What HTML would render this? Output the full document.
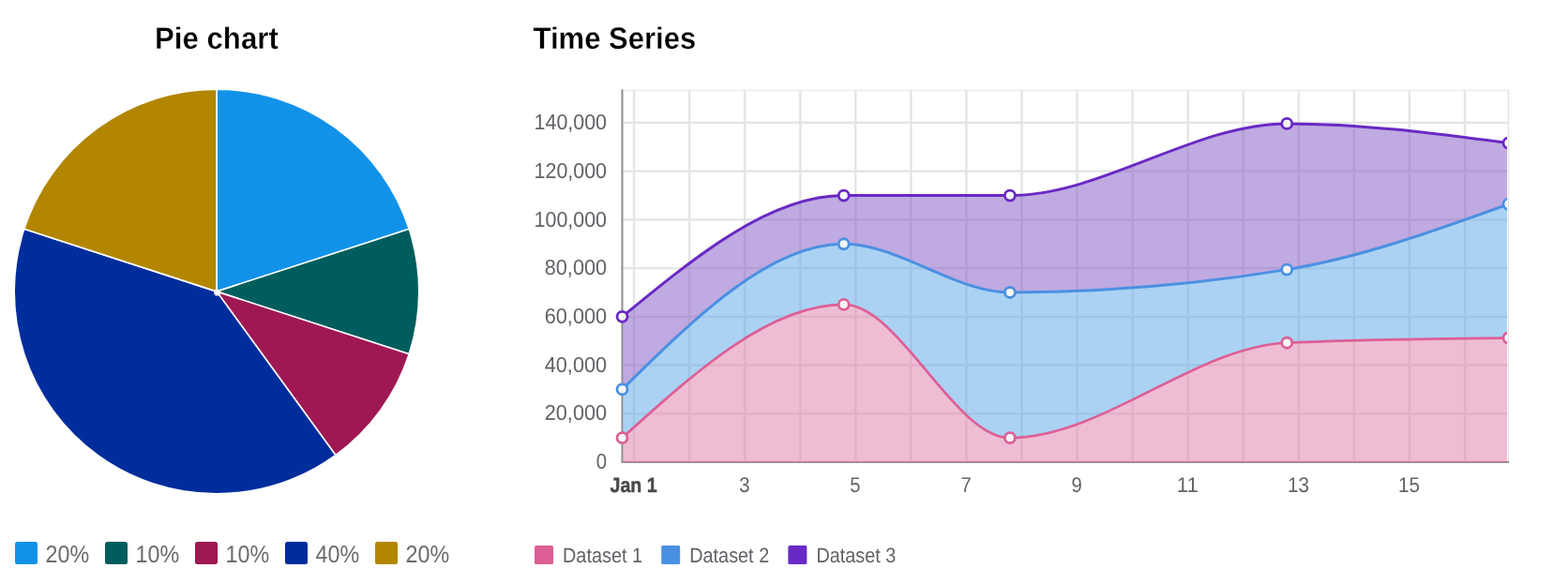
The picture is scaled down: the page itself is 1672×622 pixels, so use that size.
<!DOCTYPE html>
<html lang="en"><head><meta charset="utf-8"><title>Charts</title>
<style>html,body{margin:0;padding:0;background:#fff;}body{width:1672px;height:622px;overflow:hidden;font-family:'Liberation Sans', 'DejaVu Sans', sans-serif;}svg{display:block;text-rendering:geometricPrecision;}text{font-family:'Liberation Sans', 'DejaVu Sans', sans-serif;}</style></head><body>
<svg width="1672" height="622" viewBox="0 0 1672 622">
<rect width="1672" height="622" fill="#fff"/>
<text x="165" y="52" font-size="32.8" font-weight="700" fill="#000" stroke="#fff" stroke-width="0.3" textLength="131.8" lengthAdjust="spacingAndGlyphs">Pie chart</text>
<text x="568.6" y="52" font-size="32.8" font-weight="700" fill="#000" stroke="#fff" stroke-width="0.3" textLength="173.6" lengthAdjust="spacingAndGlyphs">Time Series</text>
<g stroke="#fff" stroke-width="1.6" stroke-linejoin="miter">
<path fill="#1192e8" d="M231.00,95.20A215.8,215.8,0,0,1,436.24,244.31L232.90,310.38A2,2,0,0,0,231.00,309.00Z"/>
<path fill="#005d5d" d="M436.24,244.31A215.8,215.8,0,0,1,436.24,377.69L232.90,311.62A2,2,0,0,0,232.90,310.38Z"/>
<path fill="#9f1853" d="M436.24,377.69A215.8,215.8,0,0,1,357.84,485.59L232.18,312.62A2,2,0,0,0,232.90,311.62Z"/>
<path fill="#002d9c" d="M357.84,485.59A215.8,215.8,0,0,1,25.76,244.31L229.10,310.38A2,2,0,0,0,232.18,312.62Z"/>
<path fill="#b28600" d="M25.76,244.31A215.8,215.8,0,0,1,231.00,95.20L231.00,309.00A2,2,0,0,0,229.10,310.38Z"/>
</g>
<circle cx="231.6" cy="312.2" r="3.4" fill="#fff"/>
<rect x="16" y="578" width="24" height="24" rx="2.5" fill="#1192e8"/>
<text x="48.6" y="600.4" font-size="25.8" fill="#6b6b6b" textLength="46.6" lengthAdjust="spacingAndGlyphs">20%</text>
<rect x="112" y="578" width="24" height="24" rx="2.5" fill="#005d5d"/>
<text x="144.6" y="600.4" font-size="25.8" fill="#6b6b6b" textLength="46.6" lengthAdjust="spacingAndGlyphs">10%</text>
<rect x="208" y="578" width="24" height="24" rx="2.5" fill="#9f1853"/>
<text x="240.6" y="600.4" font-size="25.8" fill="#6b6b6b" textLength="46.6" lengthAdjust="spacingAndGlyphs">10%</text>
<rect x="304" y="578" width="24" height="24" rx="2.5" fill="#002d9c"/>
<text x="336.6" y="600.4" font-size="25.8" fill="#6b6b6b" textLength="46.6" lengthAdjust="spacingAndGlyphs">40%</text>
<rect x="400" y="578" width="24" height="24" rx="2.5" fill="#b28600"/>
<text x="432.6" y="600.4" font-size="25.8" fill="#6b6b6b" textLength="46.6" lengthAdjust="spacingAndGlyphs">20%</text>
<line x1="663.5" y1="96.5" x2="1609.0" y2="96.5" stroke="#ebebeb" stroke-width="1.5"/>
<line x1="1608.5" y1="96.0" x2="1608.5" y2="493.0" stroke="#e4e4e4" stroke-width="1.5"/>
<g stroke="#f1f1f1" stroke-width="2.9" fill="none">
<line x1="676.10" y1="97.0" x2="676.10" y2="493.0"/>
<line x1="735.16" y1="97.0" x2="735.16" y2="493.0"/>
<line x1="794.23" y1="97.0" x2="794.23" y2="493.0"/>
<line x1="853.29" y1="97.0" x2="853.29" y2="493.0"/>
<line x1="912.35" y1="97.0" x2="912.35" y2="493.0"/>
<line x1="971.41" y1="97.0" x2="971.41" y2="493.0"/>
<line x1="1030.47" y1="97.0" x2="1030.47" y2="493.0"/>
<line x1="1089.54" y1="97.0" x2="1089.54" y2="493.0"/>
<line x1="1148.60" y1="97.0" x2="1148.60" y2="493.0"/>
<line x1="1207.66" y1="97.0" x2="1207.66" y2="493.0"/>
<line x1="1266.72" y1="97.0" x2="1266.72" y2="493.0"/>
<line x1="1325.79" y1="97.0" x2="1325.79" y2="493.0"/>
<line x1="1384.85" y1="97.0" x2="1384.85" y2="493.0"/>
<line x1="1443.91" y1="97.0" x2="1443.91" y2="493.0"/>
<line x1="1502.97" y1="97.0" x2="1502.97" y2="493.0"/>
<line x1="1562.04" y1="97.0" x2="1562.04" y2="493.0"/>
<line x1="663.5" y1="493.00" x2="1608.5" y2="493.00"/>
<line x1="663.5" y1="441.28" x2="1608.5" y2="441.28"/>
<line x1="663.5" y1="389.56" x2="1608.5" y2="389.56"/>
<line x1="663.5" y1="337.84" x2="1608.5" y2="337.84"/>
<line x1="663.5" y1="286.12" x2="1608.5" y2="286.12"/>
<line x1="663.5" y1="234.40" x2="1608.5" y2="234.40"/>
<line x1="663.5" y1="182.68" x2="1608.5" y2="182.68"/>
<line x1="663.5" y1="130.96" x2="1608.5" y2="130.96"/>
</g>
<g stroke="#e3e3e3" stroke-width="1.7" fill="none">
<line x1="676.10" y1="97.0" x2="676.10" y2="493.0"/>
<line x1="735.16" y1="97.0" x2="735.16" y2="493.0"/>
<line x1="794.23" y1="97.0" x2="794.23" y2="493.0"/>
<line x1="853.29" y1="97.0" x2="853.29" y2="493.0"/>
<line x1="912.35" y1="97.0" x2="912.35" y2="493.0"/>
<line x1="971.41" y1="97.0" x2="971.41" y2="493.0"/>
<line x1="1030.47" y1="97.0" x2="1030.47" y2="493.0"/>
<line x1="1089.54" y1="97.0" x2="1089.54" y2="493.0"/>
<line x1="1148.60" y1="97.0" x2="1148.60" y2="493.0"/>
<line x1="1207.66" y1="97.0" x2="1207.66" y2="493.0"/>
<line x1="1266.72" y1="97.0" x2="1266.72" y2="493.0"/>
<line x1="1325.79" y1="97.0" x2="1325.79" y2="493.0"/>
<line x1="1384.85" y1="97.0" x2="1384.85" y2="493.0"/>
<line x1="1443.91" y1="97.0" x2="1443.91" y2="493.0"/>
<line x1="1502.97" y1="97.0" x2="1502.97" y2="493.0"/>
<line x1="1562.04" y1="97.0" x2="1562.04" y2="493.0"/>
<line x1="663.5" y1="493.00" x2="1608.5" y2="493.00"/>
<line x1="663.5" y1="441.28" x2="1608.5" y2="441.28"/>
<line x1="663.5" y1="389.56" x2="1608.5" y2="389.56"/>
<line x1="663.5" y1="337.84" x2="1608.5" y2="337.84"/>
<line x1="663.5" y1="286.12" x2="1608.5" y2="286.12"/>
<line x1="663.5" y1="234.40" x2="1608.5" y2="234.40"/>
<line x1="663.5" y1="182.68" x2="1608.5" y2="182.68"/>
<line x1="663.5" y1="130.96" x2="1608.5" y2="130.96"/>
</g>
<line x1="663.5" y1="95.5" x2="663.5" y2="493.5" stroke="#8d8d8d" stroke-width="2"/>
<line x1="662.5" y1="493.0" x2="1609.0" y2="493.0" stroke="#8d8d8d" stroke-width="2"/>
<clipPath id="cp"><rect x="664.3" y="97.0" width="942.7" height="396.0"/></clipPath>
<g clip-path="url(#cp)">
<path d="M663.50,337.84C742.25,273.19,821.00,208.54,899.75,208.54C958.81,208.54,1017.88,208.54,1076.94,208.54C1175.38,208.54,1273.81,131.90,1372.25,131.90C1451.00,131.90,1529.75,142.24,1608.50,152.59L1608.50,493.00L663.50,493.00Z" fill="#fff" fill-opacity="0.22"/>
<path d="M663.50,467.14C742.25,396.03,821.00,324.91,899.75,324.91C958.81,324.91,1017.88,467.14,1076.94,467.14C1175.38,467.14,1273.81,370.05,1372.25,365.74C1451.00,362.29,1529.75,361.43,1608.50,360.56L1608.50,493.00C1529.75,493.00,1451.00,493.00,1372.25,493.00C1273.81,493.00,1175.38,493.00,1076.94,493.00C1017.88,493.00,958.81,493.00,899.75,493.00C821.00,493.00,742.25,493.00,663.50,493.00Z" fill="#d45a91" fill-opacity="0.4"/>
<path d="M663.50,415.42C742.25,337.84,821.00,260.26,899.75,260.26C958.81,260.26,1017.88,311.98,1076.94,311.98C1175.38,311.98,1273.81,303.86,1372.25,287.61C1451.00,274.61,1529.75,246.20,1608.50,217.79L1608.50,360.56C1529.75,361.43,1451.00,362.29,1372.25,365.74C1273.81,370.05,1175.38,467.14,1076.94,467.14C1017.88,467.14,958.81,324.91,899.75,324.91C821.00,324.91,742.25,396.03,663.50,467.14Z" fill="#2d8ee1" fill-opacity="0.4"/>
<path d="M663.50,337.84C742.25,273.19,821.00,208.54,899.75,208.54C958.81,208.54,1017.88,208.54,1076.94,208.54C1175.38,208.54,1273.81,131.90,1372.25,131.90C1451.00,131.90,1529.75,142.24,1608.50,152.59L1608.50,217.79C1529.75,246.20,1451.00,274.61,1372.25,287.61C1273.81,303.86,1175.38,311.98,1076.94,311.98C1017.88,311.98,958.81,260.26,899.75,260.26C821.00,260.26,742.25,337.84,663.50,415.42Z" fill="#5f2ab4" fill-opacity="0.4"/>
</g>
<line x1="664.5" y1="492.5" x2="1607.0" y2="492.5" stroke="#d878a5" stroke-width="1"/>
<g clip-path="url(#cp2)">
<path d="M663.50,467.14C742.25,396.03,821.00,324.91,899.75,324.91C958.81,324.91,1017.88,467.14,1076.94,467.14C1175.38,467.14,1273.81,370.05,1372.25,365.74C1451.00,362.29,1529.75,361.43,1608.50,360.56" fill="none" stroke="#dd5f96" stroke-width="2.7"/>
<path d="M663.50,415.42C742.25,337.84,821.00,260.26,899.75,260.26C958.81,260.26,1017.88,311.98,1076.94,311.98C1175.38,311.98,1273.81,303.86,1372.25,287.61C1451.00,274.61,1529.75,246.20,1608.50,217.79" fill="none" stroke="#4a90e2" stroke-width="3"/>
<path d="M663.50,337.84C742.25,273.19,821.00,208.54,899.75,208.54C958.81,208.54,1017.88,208.54,1076.94,208.54C1175.38,208.54,1273.81,131.90,1372.25,131.90C1451.00,131.90,1529.75,142.24,1608.50,152.59" fill="none" stroke="#6929c4" stroke-width="3"/>
</g>
<clipPath id="cp2"><rect x="643.5" y="77.0" width="963.5" height="436.0"/></clipPath>
<g clip-path="url(#cp2)">
<circle cx="663.50" cy="467.14" r="5.5" fill="#f6f6f6" stroke="#dd5f96" stroke-width="2.8"/>
<circle cx="899.75" cy="324.91" r="5.5" fill="#f6f6f6" stroke="#dd5f96" stroke-width="2.8"/>
<circle cx="1076.94" cy="467.14" r="5.5" fill="#f6f6f6" stroke="#dd5f96" stroke-width="2.8"/>
<circle cx="1372.25" cy="365.74" r="5.5" fill="#f6f6f6" stroke="#dd5f96" stroke-width="2.8"/>
<circle cx="1608.50" cy="360.56" r="5.5" fill="#f6f6f6" stroke="#dd5f96" stroke-width="2.8"/>
<circle cx="663.50" cy="415.42" r="5.5" fill="#f6f6f6" stroke="#4a90e2" stroke-width="2.8"/>
<circle cx="899.75" cy="260.26" r="5.5" fill="#f6f6f6" stroke="#4a90e2" stroke-width="2.8"/>
<circle cx="1076.94" cy="311.98" r="5.5" fill="#f6f6f6" stroke="#4a90e2" stroke-width="2.8"/>
<circle cx="1372.25" cy="287.61" r="5.5" fill="#f6f6f6" stroke="#4a90e2" stroke-width="2.8"/>
<circle cx="1608.50" cy="217.79" r="5.5" fill="#f6f6f6" stroke="#4a90e2" stroke-width="2.8"/>
<circle cx="663.50" cy="337.84" r="5.5" fill="#f6f6f6" stroke="#6929c4" stroke-width="2.8"/>
<circle cx="899.75" cy="208.54" r="5.5" fill="#f6f6f6" stroke="#6929c4" stroke-width="2.8"/>
<circle cx="1076.94" cy="208.54" r="5.5" fill="#f6f6f6" stroke="#6929c4" stroke-width="2.8"/>
<circle cx="1372.25" cy="131.90" r="5.5" fill="#f6f6f6" stroke="#6929c4" stroke-width="2.8"/>
<circle cx="1608.50" cy="152.59" r="5.5" fill="#f6f6f6" stroke="#6929c4" stroke-width="2.8"/>
</g>
<text x="647.0" y="500.1" font-size="23.1" fill="#606367" text-anchor="end" textLength="11.3" lengthAdjust="spacingAndGlyphs">0</text>
<text x="647.0" y="448.4" font-size="23.1" fill="#606367" text-anchor="end" textLength="66.2" lengthAdjust="spacingAndGlyphs">20,000</text>
<text x="647.0" y="396.7" font-size="23.1" fill="#606367" text-anchor="end" textLength="66.2" lengthAdjust="spacingAndGlyphs">40,000</text>
<text x="647.0" y="344.9" font-size="23.1" fill="#606367" text-anchor="end" textLength="66.2" lengthAdjust="spacingAndGlyphs">60,000</text>
<text x="647.0" y="293.2" font-size="23.1" fill="#606367" text-anchor="end" textLength="66.2" lengthAdjust="spacingAndGlyphs">80,000</text>
<text x="647.0" y="241.5" font-size="23.1" fill="#606367" text-anchor="end" textLength="77.4" lengthAdjust="spacingAndGlyphs">100,000</text>
<text x="647.0" y="189.8" font-size="23.1" fill="#606367" text-anchor="end" textLength="77.4" lengthAdjust="spacingAndGlyphs">120,000</text>
<text x="647.0" y="138.1" font-size="23.1" fill="#606367" text-anchor="end" textLength="77.4" lengthAdjust="spacingAndGlyphs">140,000</text>
<text x="675.6" y="525" font-size="22" font-weight="700" fill="#4a4a4a" stroke="#4a4a4a" stroke-width="0.45" text-anchor="middle" textLength="50.2" lengthAdjust="spacingAndGlyphs">Jan 1</text>
<text x="793.8" y="525.0" font-size="22.7" fill="#606367" text-anchor="middle" textLength="11.3" lengthAdjust="spacingAndGlyphs">3</text>
<text x="912.0" y="525.0" font-size="22.7" fill="#606367" text-anchor="middle" textLength="11.3" lengthAdjust="spacingAndGlyphs">5</text>
<text x="1030.1" y="525.0" font-size="22.7" fill="#606367" text-anchor="middle" textLength="11.3" lengthAdjust="spacingAndGlyphs">7</text>
<text x="1148.2" y="525.0" font-size="22.7" fill="#606367" text-anchor="middle" textLength="11.3" lengthAdjust="spacingAndGlyphs">9</text>
<text x="1266.3" y="525.0" font-size="22.7" fill="#606367" text-anchor="middle" textLength="23.0" lengthAdjust="spacingAndGlyphs">11</text>
<text x="1384.4" y="525.0" font-size="22.7" fill="#606367" text-anchor="middle" textLength="23.0" lengthAdjust="spacingAndGlyphs">13</text>
<text x="1502.6" y="525.0" font-size="22.7" fill="#606367" text-anchor="middle" textLength="23.0" lengthAdjust="spacingAndGlyphs">15</text>
<rect x="570.0" y="582" width="20" height="20" rx="1.6" fill="#dd5f96"/>
<text x="600.0" y="600.3" font-size="22.2" fill="#606367" textLength="85" lengthAdjust="spacingAndGlyphs">Dataset 1</text>
<rect x="705.2" y="582" width="20" height="20" rx="1.6" fill="#4a90e2"/>
<text x="735.2" y="600.3" font-size="22.2" fill="#606367" textLength="85" lengthAdjust="spacingAndGlyphs">Dataset 2</text>
<rect x="840.4" y="582" width="20" height="20" rx="1.6" fill="#6929c4"/>
<text x="870.4" y="600.3" font-size="22.2" fill="#606367" textLength="85" lengthAdjust="spacingAndGlyphs">Dataset 3</text>
</svg></body></html>
